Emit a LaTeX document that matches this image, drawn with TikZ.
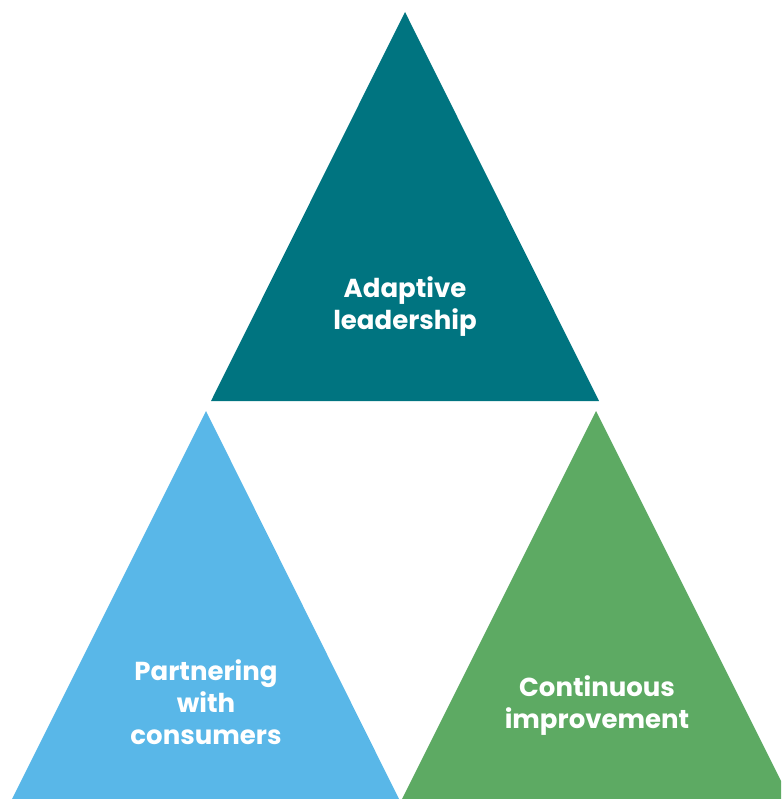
\documentclass[tikz,border=0pt]{standalone}
\usepackage{fontspec}
\setmainfont{Poppins}[BoldFont={* Bold}]
\definecolor{teal}{RGB}{0,116,128}
\definecolor{skyblue}{RGB}{89,183,232}
\definecolor{leafgreen}{RGB}{93,170,99}
\begin{document}
\begin{tikzpicture}[x=1pt,y=-1pt,
  label/.style={text=white,font=\bfseries\fontsize{26}{32}\selectfont,align=center,inner sep=0pt}]
\useasboundingbox (0,0) rectangle (781,799);
\begin{scope}
\clip (0,0) rectangle (781,799);
\fill[teal] (405,12) -- (599,401) -- (211,401) -- cycle;
\fill[skyblue] (206,411) -- (399,799) -- (12,799) -- cycle;
\fill[leafgreen] (596,411) -- (790,799) -- (402,799) -- cycle;
\end{scope}
\node[label] (adaptive) at (405,307) {Adaptive\\leadership};
\node[label] (partner) at (206,702) {Partnering\\with\\consumers};
\node[label] (contin) at (597,706) {Continuous\\improvement};
\end{tikzpicture}
\end{document}
